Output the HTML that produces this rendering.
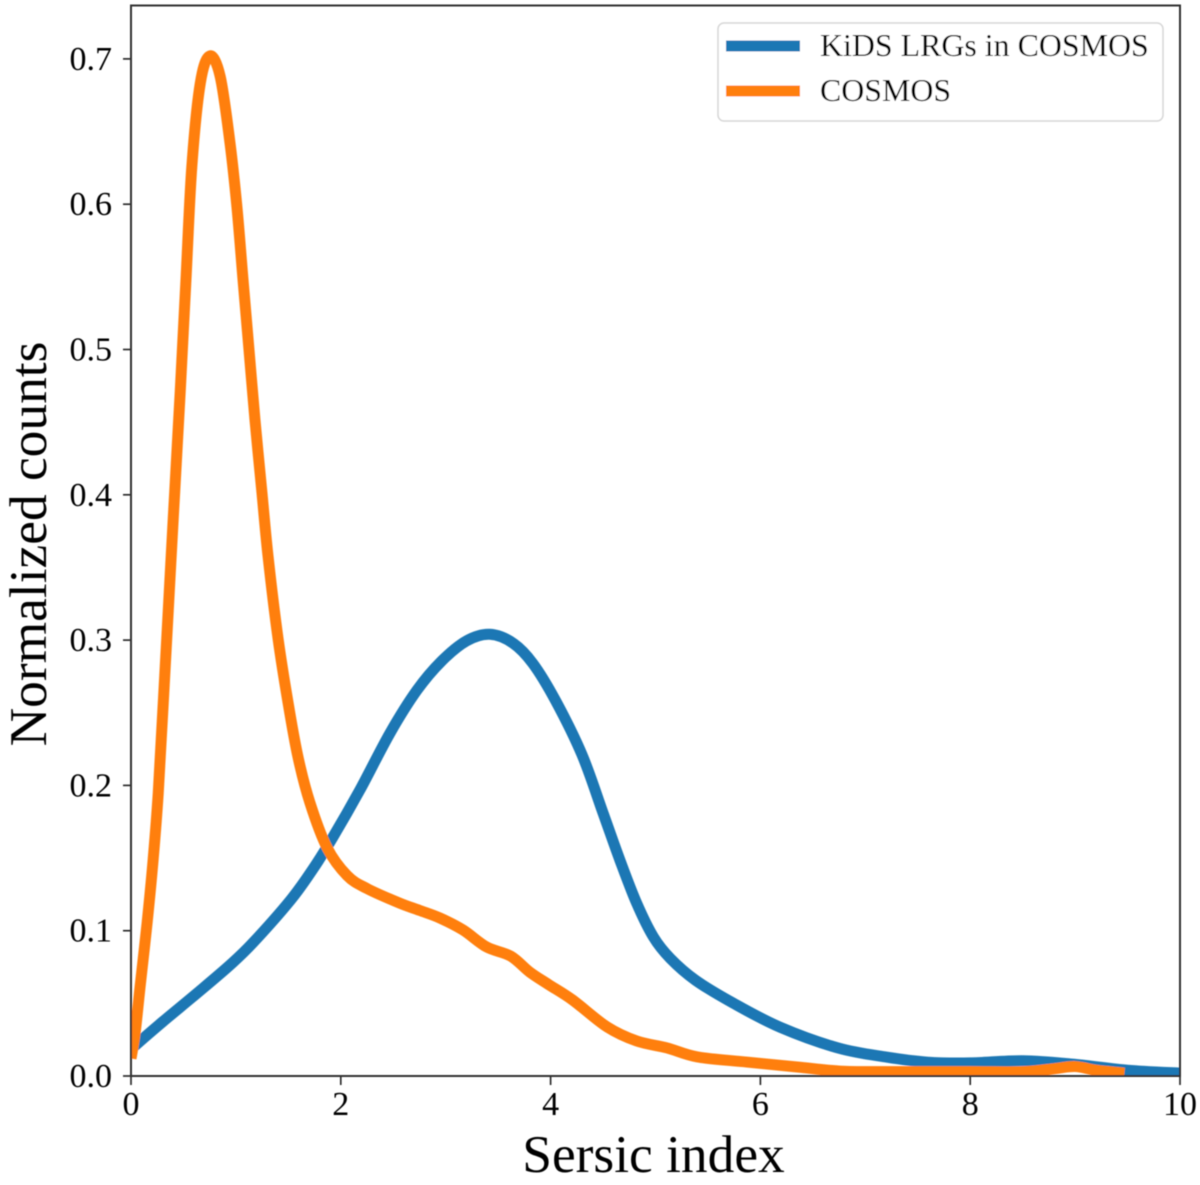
<!DOCTYPE html>
<html lang="en">
<head>
<meta charset="utf-8">
<title>Sersic index distribution</title>
<style>
html,body{margin:0;padding:0;background:#fff;}
svg{display:block;}
text{font-family:"Liberation Serif",serif;fill:#000;}
</style>
</head>
<body>
<svg id="chart" xmlns="http://www.w3.org/2000/svg" width="1200" height="1185" viewBox="0 0 1200 1185">
  <defs>
    <clipPath id="plot-clip"><rect x="131" y="5" width="1049" height="1071"></rect></clipPath>
    <filter id="soft" x="-5%" y="-5%" width="110%" height="110%"><feGaussianBlur stdDeviation="0.45"></feGaussianBlur></filter>
  </defs>
  <g id="root" filter="url(#soft)">
    <g id="series-layer" clip-path="url(#plot-clip)"></g>
    <g id="ticks-layer"></g>
    <rect x="131" y="5.5" width="1049" height="1070.5" fill="none" stroke="#333" stroke-width="2"></rect>
    <text x="653.5" y="1172" font-size="53.4" text-anchor="middle">Sersic index</text>
    <text transform="translate(46,544) rotate(-90)" font-size="53.4" text-anchor="middle">Normalized counts</text>
    <g>
      <rect x="718" y="23" width="445" height="98" rx="6" ry="6" fill="#fff" stroke="#d6d6d6" stroke-width="1.5"></rect>
      <line x1="726" y1="46" x2="800" y2="46" stroke="#1f77b4" stroke-width="11"></line>
      <text x="820" y="56" font-size="31.9">KiDS LRGs in COSMOS</text>
      <line x1="726" y1="91" x2="800" y2="91" stroke="#ff7f0e" stroke-width="11"></line>
      <text x="820" y="101" font-size="31.9">COSMOS</text>
    </g>
  </g>
</svg>
<script>
const xTickValues = [0, 2, 4, 6, 8, 10];
const xTickLabels = ["0", "2", "4", "6", "8", "10"];
const yTickValues = [0, 0.1, 0.2, 0.3, 0.4, 0.5, 0.6, 0.7];
const yTickLabels = ["0.0", "0.1", "0.2", "0.3", "0.4", "0.5", "0.6", "0.7"];

const kidsSersic = [0, 0.04, 0.305, 0.63, 0.944, 1.16, 1.52, 1.735, 1.926, 2.183, 2.469, 2.726, 2.96, 3.2, 3.42, 3.64, 3.83, 4.05, 4.3, 4.5, 4.66, 4.82, 4.98, 5.14, 5.38, 5.74, 6.19, 6.74, 7.2, 7.6, 8.0, 8.5, 9.0, 9.5, 10];
const kidsCounts = [0.018, 0.021, 0.0375, 0.057, 0.0764, 0.0915, 0.121, 0.1425, 0.1645, 0.197, 0.236, 0.2655, 0.2855, 0.2995, 0.304, 0.298, 0.284, 0.258, 0.221, 0.181, 0.1487, 0.119, 0.0957, 0.081, 0.066, 0.0502, 0.0335, 0.0193, 0.013, 0.0095, 0.009, 0.0105, 0.008, 0.004, 0.002];

const cosmosSersic = [0, 0.04, 0.086, 0.153, 0.21, 0.26, 0.31, 0.381, 0.419, 0.47, 0.524, 0.58, 0.66, 0.75, 0.85, 0.944, 1.01, 1.068, 1.125, 1.182, 1.249, 1.306, 1.4, 1.497, 1.592, 1.706, 1.87, 2.06, 2.25, 2.56, 2.75, 2.946, 3.165, 3.39, 3.62, 3.8, 3.98, 4.21, 4.54, 4.82, 5.11, 5.4, 5.87, 6.35, 6.76, 7.2, 8.0, 8.5, 8.8, 9.0, 9.2, 9.47];
const cosmosCounts = [0.012, 0.03, 0.061, 0.105, 0.148, 0.195, 0.26, 0.355, 0.405, 0.472, 0.548, 0.626, 0.683, 0.702, 0.688, 0.642, 0.598, 0.548, 0.4997, 0.4515, 0.401, 0.358, 0.302, 0.257, 0.2195, 0.188, 0.157, 0.138, 0.129, 0.119, 0.114, 0.1087, 0.1005, 0.0888, 0.0825, 0.0716, 0.063, 0.0523, 0.0337, 0.0241, 0.0193, 0.0131, 0.0096, 0.0062, 0.0034, 0.003, 0.003, 0.003, 0.005, 0.0065, 0.004, 0.002];

const SVG_NS = "http://www.w3.org/2000/svg";
const plotLeft = 131, plotRight = 1180, plotBottom = 1076, unitsPerY = 1453;
const xScale = function (v) { return plotLeft + (v / 10) * (plotRight - plotLeft); };
const yScale = function (v) { return plotBottom - v * unitsPerY; };

function curvePath(xs, ys) {
  const pts = xs.map(function (x, i) { return [xScale(x), yScale(ys[i])]; });
  let d = "M" + pts[0][0].toFixed(2) + " " + pts[0][1].toFixed(2);
  for (let i = 0; i < pts.length - 1; i++) {
    const p0 = pts[Math.max(i - 1, 0)], p1 = pts[i], p2 = pts[i + 1], p3 = pts[Math.min(i + 2, pts.length - 1)];
    const c1x = p1[0] + (p2[0] - p0[0]) / 6, c1y = p1[1] + (p2[1] - p0[1]) / 6;
    const c2x = p2[0] - (p3[0] - p1[0]) / 6, c2y = p2[1] - (p3[1] - p1[1]) / 6;
    d += "C" + c1x.toFixed(2) + " " + c1y.toFixed(2) + " " + c2x.toFixed(2) + " " + c2y.toFixed(2) + " " + p2[0].toFixed(2) + " " + p2[1].toFixed(2);
  }
  return d;
}

const seriesLayer = document.getElementById("series-layer");
const ticksLayer = document.getElementById("ticks-layer");

const kidsPath = document.createElementNS(SVG_NS, "path");


kidsPath.setAttribute("d", curvePath(kidsSersic, kidsCounts));
kidsPath.setAttribute("fill", "none");
kidsPath.setAttribute("stroke", "#1f77b4");
kidsPath.setAttribute("stroke-width", "11");
kidsPath.setAttribute("stroke-linejoin", "round");
seriesLayer.appendChild(kidsPath);

const cosmosPath = document.createElementNS(SVG_NS, "path");


cosmosPath.setAttribute("d", curvePath(cosmosSersic, cosmosCounts));
cosmosPath.setAttribute("fill", "none");
cosmosPath.setAttribute("stroke", "#ff7f0e");
cosmosPath.setAttribute("stroke-width", "11");
cosmosPath.setAttribute("stroke-linejoin", "round");
seriesLayer.appendChild(cosmosPath);

xTickValues.forEach(function (v, i) {
  const px = xScale(v);
  const tick = document.createElementNS(SVG_NS, "line");
  
  
  tick.setAttribute("x1", px);
  tick.setAttribute("x2", px);
  tick.setAttribute("y1", plotBottom);
  tick.setAttribute("y2", plotBottom + 9);
  tick.setAttribute("stroke", "#222");
  tick.setAttribute("stroke-width", "1.6");
  ticksLayer.appendChild(tick);
  const label = document.createElementNS(SVG_NS, "text");
  
  
  label.setAttribute("x", px);
  label.setAttribute("y", 1115);
  label.setAttribute("font-size", "34");
  label.setAttribute("text-anchor", "middle");
  label.textContent = xTickLabels[i];
  ticksLayer.appendChild(label);
});

yTickValues.forEach(function (v, i) {
  const py = yScale(v);
  const tick = document.createElementNS(SVG_NS, "line");
  
  
  tick.setAttribute("x1", plotLeft);
  tick.setAttribute("x2", plotLeft - 8);
  tick.setAttribute("y1", py);
  tick.setAttribute("y2", py);
  tick.setAttribute("stroke", "#222");
  tick.setAttribute("stroke-width", "1.6");
  ticksLayer.appendChild(tick);
  const label = document.createElementNS(SVG_NS, "text");
  
  
  label.setAttribute("x", 112);
  label.setAttribute("y", py + 11);
  label.setAttribute("font-size", "34");
  label.setAttribute("text-anchor", "end");
  label.textContent = yTickLabels[i];
  ticksLayer.appendChild(label);
});
</script>
</body>
</html>
